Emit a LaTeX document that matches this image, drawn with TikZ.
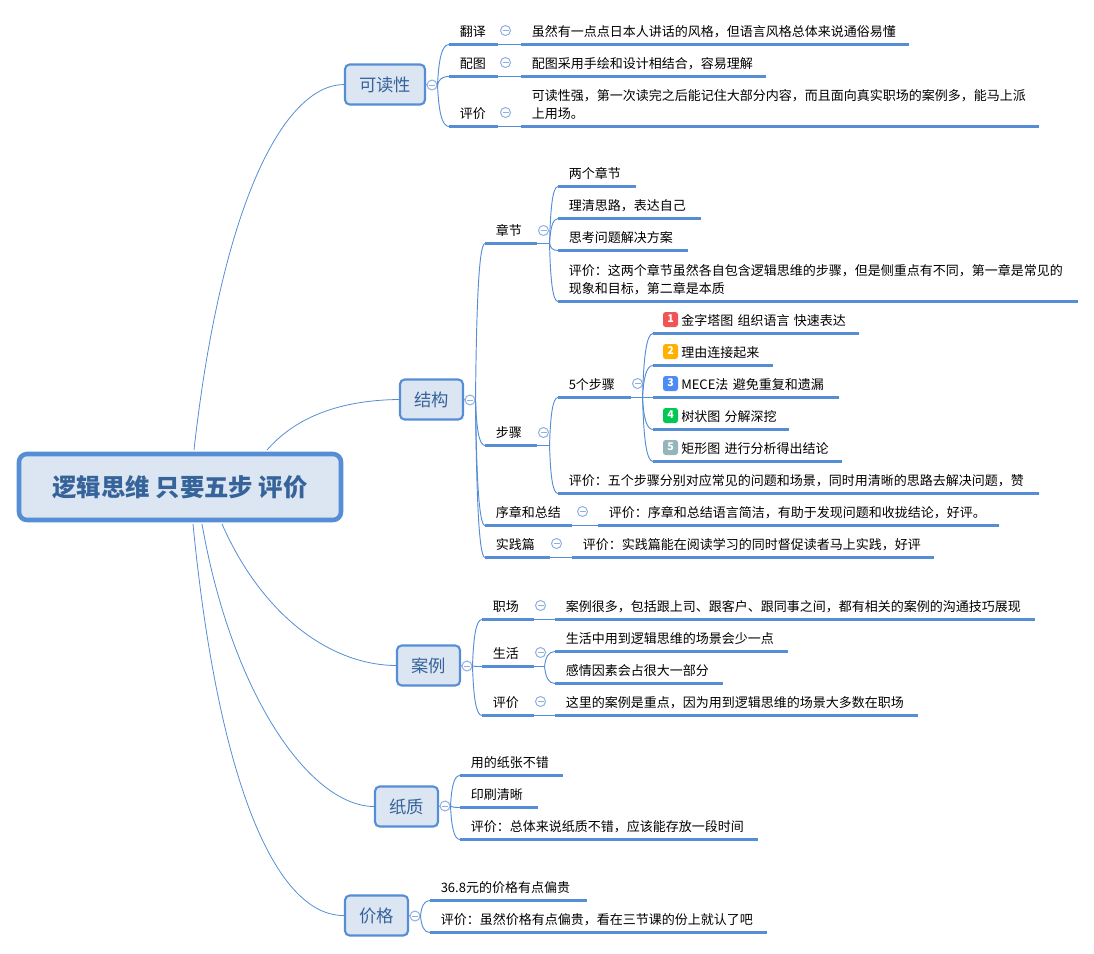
\documentclass[tikz,border=0pt]{standalone}
\usepackage{fontspec}
\setmainfont{Noto Sans CJK SC}
\usetikzlibrary{calc}
\newlength{\uu}\setlength{\uu}{0.75pt}
\definecolor{linec}{HTML}{558ED5}
\definecolor{boxfill}{HTML}{DCE6F2}
\definecolor{titlec}{HTML}{36639A}
\definecolor{circc}{HTML}{8FB0E0}
\definecolor{ired}{HTML}{F05454}
\definecolor{iyel}{HTML}{FFB000}
\definecolor{iblu}{HTML}{4D8CF5}
\definecolor{igrn}{HTML}{00C853}
\definecolor{igry}{HTML}{93B5BB}
\tikzset{
  rootbox/.style={draw=linec,fill=boxfill,line width=3.4pt,rounded corners=6pt,inner sep=0pt,
    minimum width=322\uu,minimum height=66\uu,text=titlec,font=\fontsize{18.3}{22}\selectfont\bfseries},
  mainbox/.style={draw=linec,fill=boxfill,line width=1.6pt,rounded corners=3.5pt,inner sep=0pt,
    minimum height=40\uu,text=titlec,font=\fontsize{13}{16}\selectfont},
  leaf/.style={anchor=south west,inner xsep=10.5\uu,inner ysep=2.5\uu,align=left,text=black,
    font=\fontsize{9.75}{13.5}\selectfont},
  under/.style={draw=linec,line width=2.5pt},
  thinl/.style={draw=linec,line width=0.7pt},
  rootl/.style={draw=linec,line width=0.6pt},
  tog/.style={circle,draw=circc,fill=white,line width=0.75pt,minimum size=10\uu,inner sep=0pt,
    path picture={\draw[circc,line width=0.75pt] ($(path picture bounding box.center)+(-3,0)$) -- ($(path picture bounding box.center)+(3,0)$);}},
  icon/.style={rounded corners=2pt,minimum size=15\uu,inner sep=0pt,text=white,text height=6\uu,text depth=0pt,
    font=\fontsize{8}{8}\selectfont\bfseries},
}
% \leaf{name}{x1}{x2}{y}{text}
\newcommand{\leaf}[5]{%
  \pgfmathsetlengthmacro{\tw}{(#3-#2-21)*0.75pt}%
  \node[leaf,text width=\tw] (#1) at (#2,#4-0.5) {\strut #5\strut};
  \draw[under] (#1.south west) -- (#1.south east);
}
% \kid{from}{child}
\newcommand{\kid}[2]{%
  \draw[thinl] let \p1=(#1),\p2=(#2.south west),\n1={\x2-\x1},\n2={\y2-\y1} in
    (\p1) .. controls (\x1+0.1*\n1,\y1+0.6*\n2) and (\x1+0.35*\n1,\y2) .. (\p2);
}
\begin{document}
\begin{tikzpicture}[x=0.75pt,y=-0.75pt]
\useasboundingbox (0,0) rectangle (1094,953);
% root and main boxes
\node[rootbox] (root) at (180,487) {逻辑思维 只要五步 评价};
\node[mainbox,minimum width=80\uu] (m1) at (385,84.5) {可读性};
\node[mainbox,minimum width=63\uu] (m2) at (431.5,399.5) {结构};
\node[mainbox,minimum width=63\uu] (m3) at (428.5,665.5) {案例};
\node[mainbox,minimum width=63\uu] (m4) at (406.5,806.5) {纸质};
\node[mainbox,minimum width=63\uu] (m5) at (376.5,915.5) {价格};
\coordinate (r1) at (194,450);\coordinate (r2) at (267,450);
\coordinate (r3) at (222,524);\coordinate (r4) at (202,524);\coordinate (r5) at (193,524);
\draw[rootl] (r1) .. controls (222,200) and (285,85) .. (m1.west);
\draw[rootl] (r2) .. controls (300,412) and (350,400) .. (m2.west);
\draw[rootl] (r3) .. controls (262,615) and (330,665) .. (m3.west);
\draw[rootl] (r4) .. controls (232,695) and (310,806) .. (m4.west);
\draw[rootl] (r5) .. controls (218,780) and (275,916) .. (m5.west);
% toggles on main boxes
\node[tog] (t1) at (432,85) {};
\node[tog] (t2) at (470,400) {};
\node[tog] (t3) at (467,666) {};
\node[tog] (t4) at (445,806) {};
\node[tog] (t5) at (415,916) {};
\foreach \a/\b in {m1/t1,m2/t2,m3/t3,m4/t4,m5/t5}{\draw[thinl] (\a.east) -- (\b.west);}
% ---- 可读性
\leaf{a1}{449}{497}{45}{翻译}
\leaf{a2}{449}{497}{77}{配图}
\leaf{a3}{449}{497}{127}{评价}
\leaf{a1x}{521}{908}{45}{虽然有一点点日本人讲话的风格，但语言风格总体来说通俗易懂}
\leaf{a2x}{521}{765}{77}{配图采用手绘和设计相结合，容易理解}
\leaf{a3x}{521}{1038}{127}{可读性强，第一次读完之后能记住大部分内容，而且面向真实职场的案例多，能马上派\\上用场。}
\node[tog] (ta1) at (505.5,30.5) {};
\node[tog] (ta2) at (505.5,62.5) {};
\node[tog] (ta3) at (505.5,112.5) {};
\foreach \a/\b in {a1/a1x,a2/a2x,a3/a3x}{\draw[thinl] (\a.south east) -- (\b.south west);}
\kid{t1.east}{a1}\kid{t1.east}{a2}\kid{t1.east}{a3}
% ---- 结构
\leaf{b1}{485}{536}{244}{章节}
\leaf{b2}{485}{536}{446}{步骤}
\leaf{b3}{485}{571}{526}{序章和总结}
\leaf{b4}{485}{549}{558}{实践篇}
\kid{t2.east}{b1}\kid{t2.east}{b2}\kid{t2.east}{b3}\kid{t2.east}{b4}
\node[tog] (tb1) at (543.5,230.5) {};
\node[tog] (tb2) at (543.5,432.5) {};
\node[tog] (tb3) at (582.5,511.5) {};
\node[tog] (tb4) at (556.5,543.5) {};
\leaf{c1}{558}{635}{187}{两个章节}
\leaf{c2}{558}{700}{219}{理清思路，表达自己}
\leaf{c3}{558}{687}{251}{思考问题解决方案}
\leaf{c4}{558}{1077}{302}{评价：这两个章节虽然各自包含逻辑思维的步骤，但是侧重点有不同，第一章是常见的\\现象和目标，第二章是本质}
\draw[thinl] (b1.south east) -- ++(13,0) coordinate (fb1);
\kid{fb1}{c1}\kid{fb1}{c2}\kid{fb1}{c3}\kid{fb1}{c4}
\leaf{d1}{558}{630}{398}{5个步骤}
\leaf{d2}{558}{1038}{494}{评价：五个步骤分别对应常见的问题和场景，同时用清晰的思路去解决问题，赞}
\draw[thinl] (b2.south east) -- ++(13,0) coordinate (fb2);
\kid{fb2}{d1}\kid{fb2}{d2}
\node[tog] (td1) at (637.5,383.5) {};
\leaf{e1}{653}{858}{334}{\hspace*{17.5\uu}金字塔图 组织语言 快速表达}
\leaf{e2}{653}{772}{366}{\hspace*{17.5\uu}理由连接起来}
\leaf{e3}{653}{838}{398}{\hspace*{17.5\uu}MECE法 避免重复和遗漏}
\leaf{e4}{653}{788}{430}{\hspace*{17.5\uu}树状图 分解深挖}
\leaf{e5}{653}{841}{462}{\hspace*{17.5\uu}矩形图 进行分析得出结论}
\draw[thinl] (d1.south east) -- (e3.south west);
\coordinate (fd1) at ($(d1.south east)+(12,0)$);
\kid{fd1}{e1}\kid{fd1}{e2}\kid{fd1}{e4}\kid{fd1}{e5}
\node[icon,fill=ired] (i1) at (670.5,319.5) {1};
\node[icon,fill=iyel] (i2) at (670.5,351.5) {2};
\node[icon,fill=iblu] (i3) at (670.5,383.5) {3};
\node[icon,fill=igrn] (i4) at (670.5,415.5) {4};
\node[icon,fill=igry] (i5) at (670.5,447.5) {5};
\leaf{f1}{598}{998}{526}{评价：序章和总结语言简洁，有助于发现问题和收拢结论，好评。}
\leaf{f2}{572}{933}{558}{评价：实践篇能在阅读学习的同时督促读者马上实践，好评}
\draw[thinl] (b3.south east) -- (f1.south west);
\draw[thinl] (b4.south east) -- (f2.south west);
% ---- 案例
\leaf{g1}{482}{533}{620}{职场}
\leaf{g2}{482}{533}{667}{生活}
\leaf{g3}{482}{533}{716}{评价}
\kid{t3.east}{g1}\kid{t3.east}{g2}\kid{t3.east}{g3}
\node[tog] (tg1) at (540.5,605.5) {};
\node[tog] (tg2) at (540.5,652.5) {};
\node[tog] (tg3) at (540.5,701.5) {};
\leaf{h1}{555}{1034}{620}{案例很多，包括跟上司、跟客户、跟同事之间，都有相关的案例的沟通技巧展现}
\leaf{h2}{555}{787}{652}{生活中用到逻辑思维的场景会少一点}
\leaf{h3}{555}{722}{684}{感情因素会占很大一部分}
\leaf{h4}{555}{917}{716}{这里的案例是重点，因为用到逻辑思维的场景大多数在职场}
\draw[thinl] (g1.south east) -- (h1.south west);
\draw[thinl] (g3.south east) -- (h4.south west);
\draw[thinl] (g2.south east) -- ++(11,0) coordinate (fg2);
\kid{fg2}{h2}\kid{fg2}{h3}
% ---- 纸质
\leaf{j1}{460}{562}{776}{用的纸张不错}
\leaf{j2}{460}{537}{808}{印刷清晰}
\leaf{j3}{460}{757}{840}{评价：总体来说纸质不错，应该能存放一段时间}
\kid{t4.east}{j1}\kid{t4.east}{j2}\kid{t4.east}{j3}
% ---- 价格
\leaf{k1}{430}{586}{901}{36.8元的价格有点偏贵}
\leaf{k2}{430}{766}{933}{评价：虽然价格有点偏贵，看在三节课的份上就认了吧}
\kid{t5.east}{k1}\kid{t5.east}{k2}
\end{tikzpicture}
\end{document}
